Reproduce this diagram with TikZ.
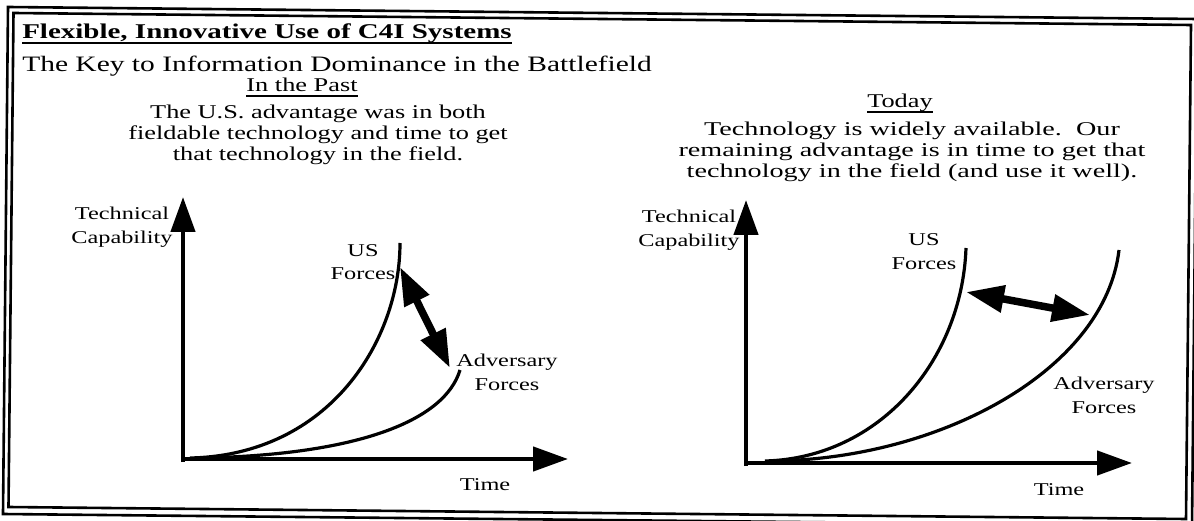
\documentclass[tikz,border=0pt]{standalone}
\usepackage{fontspec}
\setmainfont{Liberation Serif}
\usepackage{tikz}
\usetikzlibrary{arrows.meta,positioning,calc}
\tikzset{
  headline/.style={inner sep=0pt, xscale=1.38, font=\fontsize{21}{22}\selectfont\bfseries},
  subhead/.style={inner sep=0pt, xscale=1.34, font=\fontsize{22}{24}\selectfont},
  para/.style={inner sep=0pt, xscale=1.35, align=center, font=\fontsize{19.5}{21}\selectfont},
  axlbl/.style={inner sep=0pt, xscale=1.35, align=center, font=\fontsize{18}{24}\selectfont},
  uline/.style={line width=1.6pt},
  edgeline/.style={line width=2.6pt, line join=miter},
  axisarrow/.style={line width=4.5pt, -{Triangle[length=35pt,width=24pt]}},
  curveline/.style={line width=3.2pt},
  gaparrow/.style={line width=7.5pt, {Triangle[length=38pt,width=26pt]}-{Triangle[length=38pt,width=26pt]}}
}

\begin{document}
\begin{tikzpicture}[x=1pt,y=-1pt]
  \useasboundingbox (0,0) rectangle (1194,521);
  % double border, slightly skewed like the scan
  \draw[edgeline] (8,7) -- (1197,19) -- (1192,526) -- (3,514) -- cycle;
  \draw[edgeline] (13.5,13) -- (1191,25) -- (1186,519) -- (8.5,507) -- cycle;

  \node[headline, anchor=base west] (title) at (22,39) {Flexible, Innovative Use of C4I Systems};
  \draw[uline] ([yshift=-4pt]title.base west) -- ([yshift=-4pt]title.base east);
  \node[subhead, anchor=base west] (key) at (22,72) {The Key to Information Dominance in the Battlefield};

  \node[para, anchor=base] (past) at (302,92) {In the Past};
  \draw[uline] ([yshift=-4pt]past.base west) -- ([yshift=-4pt]past.base east);
  \node[para, anchor=base] (pasttxt) at (318,161)
    {The U.S. advantage was in both\\fieldable technology and time to get\\that technology in the field.};

  \node[para, anchor=base] (today) at (900,108) {Today};
  \draw[uline] ([yshift=-4pt]today.base west) -- ([yshift=-4pt]today.base east);
  \node[para, anchor=base, xscale=1.07] (todaytxt) at (912,178)
    {Technology is widely available.\ \ Our\\remaining advantage is in time to get that\\technology in the field (and use it well).};

  % past chart
  \coordinate (lorig) at (183,459);
  \coordinate (lytip) at (183,197);
  \coordinate (lxtip) at (568,459);
  \coordinate (lus) at (400,243);
  \coordinate (ladv) at (460,370);
  \draw[axisarrow] ([yshift=-3pt]lorig) -- (lytip);
  \draw[axisarrow] ([xshift=-2pt]lorig) -- (lxtip);
  \draw[curveline] (190,458) .. controls (330,455) and (400,340) .. (lus);
  \draw[curveline] (200,458) .. controls (360,455) and (445,420) .. (ladv);
  \coordinate (lgapa) at (400,267);
  \coordinate (lgapb) at (450,368);
  \draw[gaparrow] (lgapa) -- (lgapb);
  \node[axlbl, anchor=base] (ltech) at (122,244) {Technical\\Capability};
  \node[axlbl, anchor=base] (lusl) at (363,280) {US\\Forces};
  \node[axlbl, anchor=base] (ladvl) at (507,390) {Adversary\\Forces};
  \node[axlbl, anchor=base] (ltime) at (485,490) {Time};

  % today chart
  \coordinate (rorig) at (746,463);
  \coordinate (rytip) at (746,200);
  \coordinate (rxtip) at (1132,463);
  \coordinate (rus) at (966,248);
  \coordinate (radv) at (1119,250);
  \draw[axisarrow] ([yshift=-3pt]rorig) -- (rytip);
  \draw[axisarrow] ([xshift=-2pt]rorig) -- (rxtip);
  \draw[curveline] (765,461) .. controls (880,458) and (962,360) .. (rus);
  \draw[curveline] (770,461) .. controls (940,460) and (1105,370) .. (radv);
  \coordinate (rgapa) at (966,292);
  \coordinate (rgapb) at (1090,315);
  \draw[gaparrow] (rgapa) -- (rgapb);
  \node[axlbl, anchor=base] (rtech) at (689,247) {Technical\\Capability};
  \node[axlbl, anchor=base] (rusl) at (924,270) {US\\Forces};
  \node[axlbl, anchor=base] (radvl) at (1104,413) {Adversary\\Forces};
  \node[axlbl, anchor=base] (rtime) at (1059,495) {Time};
\end{tikzpicture}
\end{document}
